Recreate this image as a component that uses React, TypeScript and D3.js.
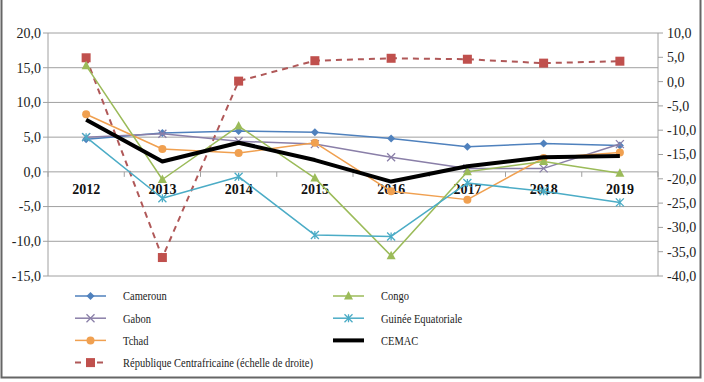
import React from "react";
import * as d3 from "d3";

const years = ["2012", "2013", "2014", "2015", "2016", "2017", "2018", "2019"];
const leftTicks = [20, 15, 10, 5, 0, -5, -10, -15];
const rightTicks = [10, 5, 0, -5, -10, -15, -20, -25, -30, -35, -40];

const cameroun = [4.7, 5.6, 5.9, 5.7, 4.8, 3.6, 4.1, 3.8];
const gabon = [5.0, 5.5, 4.4, 4.0, 2.1, 0.5, 0.5, 4.0];
const tchad = [8.3, 3.3, 2.7, 4.2, -2.8, -4.0, 2.0, 2.8];
const congo = [15.3, -1.1, 6.6, -0.9, -12.1, 0.0, 1.5, -0.2];
const guinee = [5.0, -3.8, -0.7, -9.1, -9.3, -1.6, -2.8, -4.4];
const cemac = [7.5, 1.5, 4.2, 1.7, -1.4, 0.8, 2.1, 2.3];
const rca = [4.9, -36.2, 0.1, 4.3, 4.8, 4.6, 3.8, 4.2];

type Marker = "diamond" | "x" | "circle" | "triangle" | "star" | "square" | "none";
interface Series { name: string; values: number[]; color: string; marker: Marker; width: number; dash?: string; right?: boolean; }

const series: Series[] = [
  { name: "Cameroun", values: cameroun, color: "#4F81BD", marker: "diamond", width: 1.5 },
  { name: "Gabon", values: gabon, color: "#8A7FA8", marker: "x", width: 1.5 },
  { name: "Tchad", values: tchad, color: "#F0A050", marker: "circle", width: 1.5 },
  { name: "Congo", values: congo, color: "#9BBB59", marker: "triangle", width: 1.5 },
  { name: "Guinée Equatoriale", values: guinee, color: "#4BACC6", marker: "star", width: 1.5 },
  { name: "CEMAC", values: cemac, color: "#000000", marker: "none", width: 4 },
  { name: "République Centrafricaine (échelle de droite)", values: rca, color: "#B05858", marker: "square", width: 2, dash: "6,5", right: true },
];

const legendOrder = [0, 3, 1, 4, 2, 5, 6];

const L = 48, R = 658, T = 33, B = 276;
const x = d3.scaleBand<string>().domain(years).range([L, R]);
const yL = d3.scaleLinear().domain([-15, 20]).range([B, T]);
const yR = d3.scaleLinear().domain([-40, 10]).range([B, T]);

const FONT = { fontFamily: "Liberation Serif" };
const fmt = (t: number) => d3.format(".1f")(t).replace(".", ",").replace("−", "-");

function MarkerShape({ m, cx, cy, color }: { m: Marker; cx: number; cy: number; color: string }) {
  const s = 4;
  switch (m) {
    case "diamond":
      return <path d={`M${cx},${cy - s}L${cx + s},${cy}L${cx},${cy + s}L${cx - s},${cy}Z`} fill={color} />;
    case "x":
      return <path d={`M${cx - s},${cy - s}L${cx + s},${cy + s}M${cx - s},${cy + s}L${cx + s},${cy - s}`} stroke={color} strokeWidth={1.3} />;
    case "star":
      return <path d={`M${cx - s},${cy - s}L${cx + s},${cy + s}M${cx - s},${cy + s}L${cx + s},${cy - s}M${cx},${cy - s}L${cx},${cy + s}`} stroke={color} strokeWidth={1.3} />;
    case "circle":
      return <circle cx={cx} cy={cy} r={4} fill={color} />;
    case "triangle":
      return <path d={`M${cx},${cy - 5}L${cx + 4.5},${cy + 3.5}L${cx - 4.5},${cy + 3.5}Z`} fill={color} />;
    case "square":
      return <rect x={cx - 4.5} y={cy - 4.5} width={9} height={9} fill="#C0504D" />;
    default:
      return null;
  }
}

export default function App() {
  const cx = (yr: string) => (x(yr) as number) + x.bandwidth() / 2;
  const drawOrder = [6, 0, 1, 2, 3, 4, 5];
  return (
    <svg width={704} height={382} style={{ position: "absolute", left: 0, top: 0, background: "#fff" }}>
      <rect x={1.5} y={-2} width={699} height={379.5} fill="#fff" stroke="#666" strokeWidth={2} />
      {leftTicks.map((t) => (
        <line key={t} x1={L} x2={R} y1={yL(t)} y2={yL(t)} stroke="#A0A0A0" strokeWidth={1} />
      ))}
      <line x1={L} x2={L} y1={T} y2={B} stroke="#A0A0A0" />
      {leftTicks.map((t) => (
        <g key={t}>
          <line x1={L - 5} x2={L} y1={yL(t)} y2={yL(t)} stroke="#A0A0A0" />
          <text x={L - 7} y={yL(t)} dy="0.35em" textAnchor="end" fontSize={14} fill="#222" style={FONT}>
            {fmt(t)}
          </text>
        </g>
      ))}
      <line x1={R} x2={R} y1={T} y2={B} stroke="#A0A0A0" />
      {rightTicks.map((t) => (
        <g key={t}>
          <line x1={R} x2={R + 5} y1={yR(t)} y2={yR(t)} stroke="#A0A0A0" />
          <text x={R + 9} y={yR(t)} dy="0.35em" textAnchor="start" fontSize={14} fill="#222" style={FONT}>
            {fmt(t)}
          </text>
        </g>
      ))}
      {years.map((yr) => (
        <line key={"t" + yr} x1={(x(yr) as number)} x2={(x(yr) as number)} y1={yL(0)} y2={yL(0) + 5} stroke="#A0A0A0" />
      ))}
      <line x1={R} x2={R} y1={yL(0)} y2={yL(0) + 5} stroke="#A0A0A0" />
      {years.map((yr) => (
        <text key={yr} x={cx(yr)} y={yL(0) + 22} textAnchor="middle" fontSize={14} fontWeight="bold" fill="#111" style={FONT}>
          {yr}
        </text>
      ))}
      {drawOrder.map((si) => {
        const s = series[si];
        const ys = s.right ? yR : yL;
        const line = d3.line<number>().x((_, i) => cx(years[i])).y((v) => ys(v));
        return (
          <g key={s.name}>
            <path d={line(s.values) as string} fill="none" stroke={s.color} strokeWidth={s.width} strokeDasharray={s.dash} strokeLinejoin="round" />
            {s.values.map((v, i) => (
              <MarkerShape key={i} m={s.marker} cx={cx(years[i])} cy={ys(v)} color={s.color} />
            ))}
          </g>
        );
      })}
      {legendOrder.map((si, k) => {
        const s = series[si];
        const col = k === 6 ? 0 : k % 2;
        const row = Math.floor(k / 2);
        const lx = col === 0 ? 75 : 333;
        const ly = 296 + row * 22.2;
        return (
          <g key={"lg" + si}>
            <line x1={lx} x2={lx + 31} y1={ly} y2={ly} stroke={s.color} strokeWidth={s.width} strokeDasharray={s.dash} />
            <MarkerShape m={s.marker} cx={lx + 15.5} cy={ly} color={s.color} />
            <g transform={`translate(${lx + 48},${ly}) scale(0.84,1)`}>
              <text x={0} y={0} dy="0.35em" fontSize={12.5} fill="#222" style={FONT}>{s.name}</text>
            </g>
          </g>
        );
      })}
    </svg>
  );
}
